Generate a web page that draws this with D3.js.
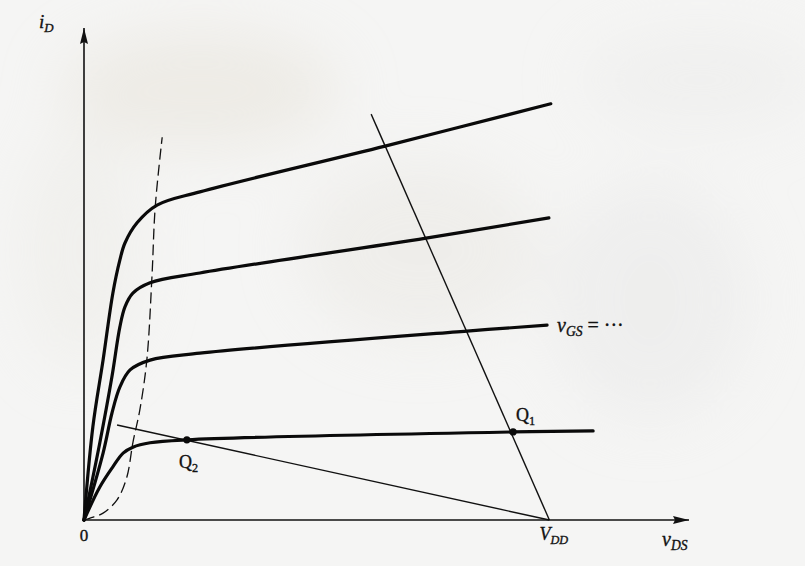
<!DOCTYPE html>
<html><head><meta charset="utf-8">
<script src="https://cdn.jsdelivr.net/npm/d3@7"></script>
<style>body{margin:0;background:#f4f4f3}svg{display:block}</style>
</head><body>
<svg id="c" width="805" height="566"></svg>
<script>
// data (vDS in units where VDD = 10, iD in arbitrary units)
const VDD = 10;
const curve1 = [[0,0],[0.19,1.89],[0.41,3.25],[0.62,4.61],[0.77,5.28],[0.88,5.63],[1.14,6.04],[1.57,6.40],[2.49,6.67],[6.47,7.60],[10.03,8.46]];
const curve2 = [[0,0],[0.34,1.57],[0.60,2.91],[0.77,3.92],[0.88,4.33],[1.05,4.61],[1.42,4.82],[2.49,5.02],[7.35,5.73],[9.99,6.14]];
const curve3 = [[0,0],[0.41,1.36],[0.60,2.17],[0.77,2.70],[0.99,3.05],[1.42,3.25],[2.49,3.39],[8.23,3.84],[9.95,3.96]];
const curve4 = [[0,0],[0.34,0.67],[0.62,1.08],[0.84,1.36],[1.05,1.48],[1.42,1.57],[2.21,1.63],[9.22,1.79],[10.94,1.81]];
const boundary = [[0,0],[0.13,0.04],[0.41,0.14],[0.71,0.41],[0.92,0.87],[1.05,1.57],[1.20,2.24],[1.35,3.25],[1.46,4.94],[1.53,6.36],[1.68,7.78]];
const loadLine1 = [[6.17,8.25],[VDD,0]];
const loadLine2 = [[0.71,1.93],[VDD,0]];
const qPoints = [{name:"Q",sub:"1",v:[9.22,1.79]},{name:"Q",sub:"2",v:[2.21,1.63]}];

const svg = d3.select("#c");
const x = d3.scaleLinear().domain([0,13]).range([84,689]);
const y = d3.scaleLinear().domain([0,10]).range([520,28]);

// faint background
const defs = svg.append("defs");
const f = defs.append("filter").attr("id","blur").attr("x","-50%").attr("y","-50%").attr("width","200%").attr("height","200%");
f.append("feGaussianBlur").attr("stdDeviation",30);
svg.append("rect").attr("width",805).attr("height",566).attr("fill","#f5f5f4");
const bg = svg.append("g").attr("filter","url(#blur)").attr("opacity",0.5);
[[200,90,140,60,"#e6e2d8"],[420,250,120,90,"#e9e7e2"],[700,80,120,50,"#ebebea"],[650,300,100,120,"#e8e8e8"],[80,250,60,120,"#ecebe6"]].forEach(b=>
  bg.append("ellipse").attr("cx",b[0]).attr("cy",b[1]).attr("rx",b[2]).attr("ry",b[3]).attr("fill",b[4]));

const line = d3.line().x(d=>x(d[0])).y(d=>y(d[1])).curve(d3.curveCatmullRom.alpha(0.5));
const straight = d3.line().x(d=>x(d[0])).y(d=>y(d[1]));

// axes
defs.append("marker").attr("id","arr").attr("viewBox","0 0 16 10").attr("refX",16).attr("refY",5)
  .attr("markerWidth",16).attr("markerHeight",10).attr("markerUnits","userSpaceOnUse").attr("orient","auto")
  .append("path").attr("d","M0,1 L16,5 L0,9 L2,5 Z").attr("fill","#111");
svg.append("line").attr("x1",x(0)).attr("y1",y(0)).attr("x2",x(13)).attr("y2",y(0))
  .attr("stroke","#111").attr("stroke-width",1.6).attr("marker-end","url(#arr)");
svg.append("line").attr("x1",x(0)).attr("y1",y(0)).attr("x2",x(0)).attr("y2",y(10))
  .attr("stroke","#111").attr("stroke-width",1.6).attr("marker-end","url(#arr)");

// boundary
svg.append("path").attr("d",line(boundary)).attr("fill","none").attr("stroke","#111")
  .attr("stroke-width",1.3).attr("stroke-dasharray","11,5");

// load lines
[loadLine1,loadLine2].forEach(l=>svg.append("path").attr("d",straight(l)).attr("fill","none")
  .attr("stroke","#111").attr("stroke-width",1.4));

// curves
[curve1,curve2,curve3,curve4].forEach(c=>svg.append("path").attr("d",line(c)).attr("fill","none")
  .attr("stroke","#0a0a0a").attr("stroke-width",3.2).attr("stroke-linecap","round"));

// Q points
svg.selectAll("circle.q").data(qPoints).enter().append("circle")
  .attr("cx",d=>x(d.v[0])).attr("cy",d=>y(d.v[1])).attr("r",3.6).attr("fill","#0a0a0a");

const serif = "'Liberation Serif','DejaVu Serif',serif";
function label(px,py,main,sub,italic,size){
  const t = svg.append("text").attr("x",px).attr("y",py).attr("font-family",serif)
    .attr("font-size",size).attr("fill","#111").attr("stroke","#111").attr("stroke-width",0.35)
    .attr("font-style",italic?"italic":"normal");
  t.append("tspan").text(main);
  if(sub) t.append("tspan").attr("font-size",size*0.68).attr("dy",4).text(sub);
  return t;
}
label(39,28,"i","D",true,19);
svg.append("text").attr("x",x(0)).attr("y",541).attr("text-anchor","middle").attr("font-family",serif)
  .attr("font-size",17).attr("fill","#111").attr("stroke","#111").attr("stroke-width",0.35).text("0");
label(x(VDD)-10,540,"V","DD",true,18);
label(662,546,"v","DS",true,20);
label(516,421,"Q","1",false,18);
label(179,468,"Q","2",false,18);
const g = label(557,332,"v","GS",true,20);
g.append("tspan").attr("dy",-4).attr("font-style","normal").text(" = ···");
</script>
</body></html>
